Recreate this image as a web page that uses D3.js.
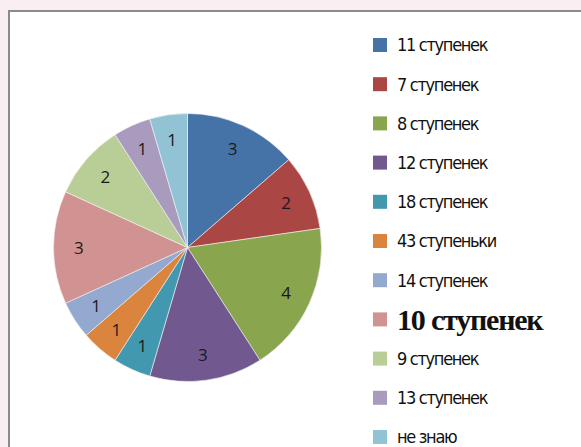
<!DOCTYPE html>
<html>
<head>
<meta charset="utf-8">
<script src="https://cdn.jsdelivr.net/npm/d3@7"></script>
<style>
  html, body { margin: 0; padding: 0; background: #f9eff2; }
  svg { display: block; }
</style>
</head>
<body>
<script>
var categories = ["11 ступенек", "7 ступенек", "8 ступенек", "12 ступенек", "18 ступенек",
                  "43 ступеньки", "14 ступенек", "10 ступенек", "9 ступенек", "13 ступенек", "не знаю"];
var values = [3, 2, 4, 3, 1, 1, 1, 3, 2, 1, 1];
var colors = ["#4572a7", "#aa4643", "#89a54e", "#71588f", "#4198af", "#db843d",
              "#93a9cf", "#d19392", "#b9cd96", "#a99bbd", "#92c3d4"];

var width = 581;
var height = 447;
var cx = 187.5, cy = 247.5, radius = 134;

var svg = d3.select("body").append("svg")
            .attr("width", width)
            .attr("height", height);

// chart area
svg.append("rect")
   .attr("x", 9).attr("y", 11)
   .attr("width", 600).attr("height", 460)
   .attr("fill", "#fff")
   .attr("stroke", "#8a8a8a")
   .attr("stroke-width", 2);

var pie = d3.pie().sort(null).value(function(d){ return d; });
var arc = d3.arc().innerRadius(0).outerRadius(radius);
var labelArc = d3.arc().innerRadius(radius * 0.81).outerRadius(radius * 0.81);

var g = svg.append("g").attr("transform", "translate(" + cx + "," + cy + ")");

var slices = g.selectAll("g.slice")
              .data(pie(values))
              .enter().append("g").attr("class", "slice");

slices.append("path")
      .attr("d", arc)
      .attr("fill", function(d, i){ return colors[i]; })
      .attr("stroke", "#f4f4f4")
      .attr("stroke-width", 0.6);

slices.append("text")
      .attr("transform", function(d){ return "translate(" + labelArc.centroid(d) + ")"; })
      .attr("text-anchor", "middle")
      .attr("dy", "0.36em")
      .attr("font-family", "'Open Sans', 'DejaVu Sans', sans-serif")
      .attr("font-size", 17)
      .attr("fill", "#1a1a1a")
      .text(function(d){ return d.data; });

// legend
var legendY = d3.scalePoint().domain(categories).range([45, 437]);

var legend = svg.selectAll("g.legend")
                .data(categories)
                .enter().append("g").attr("class", "legend")
                .attr("transform", function(d){ return "translate(373," + legendY(d) + ")"; });

legend.append("rect")
      .attr("x", 0).attr("y", -7)
      .attr("width", 14).attr("height", 14)
      .attr("fill", function(d, i){ return colors[i]; });

legend.append("text")
      .attr("x", 24)
      .attr("dy", "0.36em")
      .attr("font-family", function(d, i){ return i === 7 ? "'Liberation Serif', serif" : "'DejaVu Sans Condensed', 'DejaVu Sans', sans-serif"; })
      .attr("font-weight", function(d, i){ return i === 7 ? "bold" : "normal"; })
      .attr("font-size", function(d, i){ return i === 7 ? 30 : 18; })
      .attr("letter-spacing", function(d, i){ return i === 7 ? -1.2 : -1.3; })
      .attr("fill", "#111")
      .text(function(d){ return d; });
</script>
</body>
</html>
